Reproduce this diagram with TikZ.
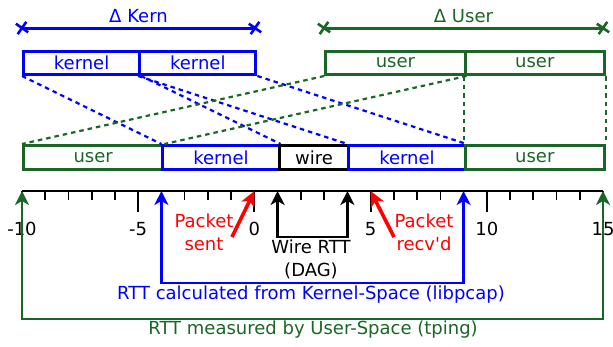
\documentclass[tikz,border=0pt]{standalone}
\usepackage{fontspec}
\setmainfont{DejaVu Sans}
\usetikzlibrary{arrows.meta,shapes.misc}
\definecolor{ublue}{RGB}{0,0,255}
\definecolor{ugreen}{RGB}{26,102,38}
\definecolor{ured}{RGB}{255,0,0}
\begin{document}
\begin{tikzpicture}[x=1pt,y=-1pt,font=\fontsize{18}{23}\selectfont,
  seg/.style={draw,line width=3pt,inner sep=0pt,anchor=north west},
  midseg/.style={seg,minimum height=24pt},
  topseg/.style={seg,minimum height=23pt},
  dsh/.style={line width=2.2pt,dash pattern=on 4.5pt off 4pt},
  xmark/.style={cross out,draw,line width=2.6pt,minimum size=8pt,inner sep=0pt,rotate=10},
  dline/.style={line width=3pt},
  both/.style={line width=2.3pt,{Stealth[length=14pt,width=14pt,inset=4pt]}-{Stealth[length=14pt,width=14pt,inset=4pt]}},
  redarr/.style={ured,line width=3.6pt,-{Stealth[length=15pt,width=14pt,inset=4pt]}},
  lbl/.style={inner sep=0pt,align=center}]
\useasboundingbox (0,0) rectangle (613,346);
% top row
\node[topseg,ublue,minimum width=116.2pt] (tk1) at (22,50) {kernel};
\node[topseg,ublue,minimum width=116.2pt] (tk2) at (138.2,50) {kernel};
\node[topseg,ugreen,minimum width=139.4pt] (tu1) at (324.2,50) {user};
\node[topseg,ugreen,minimum width=139.4pt] (tu2) at (463.6,50) {user};
% middle row
\node[midseg,ugreen,minimum width=139.4pt] (mu1) at (22,144) {user};
\node[midseg,ublue,minimum width=116.2pt] (mk1) at (161.4,144) {kernel};
\node[midseg,black,minimum width=69.8pt] (mw) at (277.6,144) {wire};
\node[midseg,ublue,minimum width=116.2pt] (mk2) at (347.4,144) {kernel};
\node[midseg,ugreen,minimum width=139.4pt] (mu2) at (463.6,144) {user};
% dashed mappings
\draw[dsh,ublue] (tk1.south west) -- (mk1.north west);
\draw[dsh,ublue] (tk1.south east) -- (mk1.north east);
\draw[dsh,ublue] (tk2.south west) -- (mk2.north west);
\draw[dsh,ublue] (tk2.south east) -- (mk2.north east);
\draw[dsh,ugreen] (tu1.south west) -- (mu1.north west);
\draw[dsh,ugreen] (tu1.south east) -- (mu1.north east);
\draw[dsh,ugreen] (tu2.south west) -- (mu2.north west);
\draw[dsh,ugreen] (tu2.south east) -- (mu2.north east);
% deltas
\node[xmark,ublue] (dk1) at (22,28) {};
\node[xmark,ublue] (dk2) at (255,28) {};
\draw[dline,ublue] (dk1.center) -- (dk2.center);
\node[lbl,ublue] (dkl) at (138.5,16) {Δ Kern};
\node[xmark,ugreen] (du1) at (324,28) {};
\node[xmark,ugreen] (du2) at (603,28) {};
\draw[dline,ugreen] (du1.center) -- (du2.center);
\node[lbl,ugreen] (dul) at (463.5,16) {Δ User};
% axis
\coordinate (am10) at (22,191);
\coordinate (a15) at (603,191);
\draw[line width=2.2pt] (am10) -- (a15);
\foreach \v in {-10,...,15} {
  \draw[line width=1.6pt] ({22+23.24*(\v+10)},191) -- ++(0,9);
}
\foreach \v in {-10,-5,0,5,10,15} {
  \draw[line width=2pt] ({22+23.24*(\v+10)},191) -- ++(0,21);
  \node[lbl] (n\v) at ({22+23.24*(\v+10)},229) {\v};
}
% axis points
\coordinate (pm4) at (161.4,191);
\coordinate (p1) at (277.6,191);
\coordinate (p4) at (347.4,191);
\coordinate (p9) at (463.6,191);
\coordinate (p0) at (254.4,191);
\coordinate (p5) at (370.6,191);
% green
\coordinate (gl) at (22,319);
\coordinate (gr) at (603,319);
\draw[both,ugreen] (am10) -- (gl) -- (gr) -- (a15);
% blue
\coordinate (bl) at (161.4,283);
\coordinate (br) at (463.6,283);
\draw[both,ublue] (pm4) -- (bl) -- (br) -- (p9);
% black
\coordinate (kl) at (277.6,237);
\coordinate (kr) at (347.4,237);
\draw[both,black] (p1) -- (kl) -- (kr) -- (p4);
% red
\coordinate (rs) at (232,237);
\coordinate (rr) at (394,237);
\draw[redarr] (rs) -- (p0);
\draw[redarr] (rr) -- (p5);
% labels
\node[lbl,ured] (sent) at (204,232) {Packet\\sent};
\node[lbl,ured] (recv) at (424,232) {Packet\\recv\textquotesingle d};
\node[lbl] (wire) at (311,259) {Wire RTT\\(DAG)};
\node[lbl,ublue] (kcap) at (311,295) {RTT calculated from Kernel-Space (libpcap)};
\node[lbl,ugreen] (ucap) at (313,330) {RTT measured by User-Space (tping)};
\end{tikzpicture}
\end{document}
